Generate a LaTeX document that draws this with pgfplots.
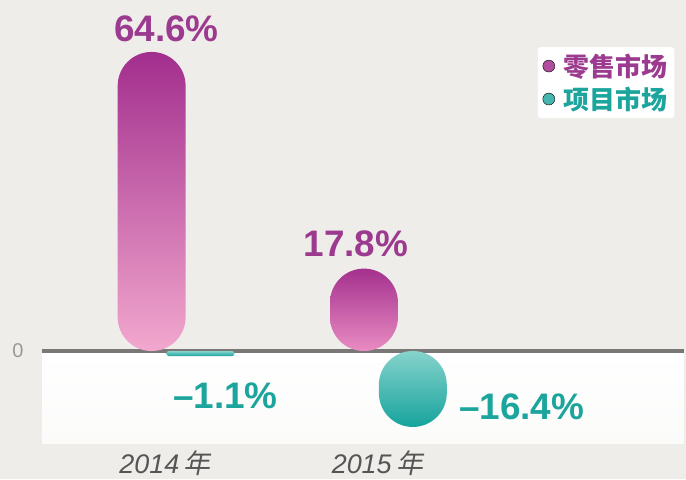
\documentclass[border=0pt]{standalone}
\usepackage{pgfplots}
\pgfplotsset{compat=1.18}
\usepackage{fontspec}
\setmainfont{Liberation Sans}
\newfontfamily\cjk{Noto Sans CJK SC}
\newfontfamily\cjkit{Noto Sans CJK SC}[FakeSlant=0.2]
\usetikzlibrary{backgrounds}
\definecolor{bg}{HTML}{EFEDE9}
\definecolor{panel}{HTML}{FBFBFA}
\definecolor{zeroline}{HTML}{7A7876}
\definecolor{purpTop}{HTML}{A22E8D}
\definecolor{purpBot}{HTML}{F2A8CE}
\definecolor{purpTop2}{HTML}{A4318E}
\definecolor{purpBot2}{HTML}{E98CC2}
\definecolor{tealTop}{HTML}{86D3CC}
\definecolor{tealBot}{HTML}{16A39C}
\definecolor{purpTxt}{HTML}{9B3A8E}
\definecolor{tealTxt}{HTML}{1BA59D}
\definecolor{yeartxt}{HTML}{555555}
\begin{document}
\begin{tikzpicture}[show background rectangle, inner frame sep=0pt,
  background rectangle/.style={fill=bg, draw=none}]
\begin{axis}[
  scale only axis, width=686pt, height=479pt,
  xmin=-0.8286, xmax=2.392, ymin=-27.35, ymax=75.8,
  axis line style={draw=none},
  major tick length=0pt,
  clip=false,
  xtick={0,1},
  xticklabels={{\itshape 2014\,{\cjkit 年}}, {\itshape 2015\,{\cjkit 年}}},
  xticklabel style={anchor=center, yshift=14pt, xshift=-11pt, font=\fontsize{27}{30}\selectfont, text=yeartxt},
  ytick={0}, yticklabels={0},
  yticklabel style={anchor=center, xshift=18pt, font=\fontsize{20}{22}\selectfont, text=gray!80},
  legend style={at={(rel axis cs:0.786,0.902)}, anchor=north west,
    fill=white, draw=none, rounded corners=3pt,
    inner xsep=5pt, inner ysep=5pt, row sep=5pt,
    font=\fontsize{26}{30}\selectfont\cjk\bfseries},
  legend cell align=left,
]
\path (rel axis cs:0,0) rectangle (rel axis cs:1,1);
% lower panel
\fill[top color=white, bottom color=panel] (axis cs:-0.631,0) rectangle (axis cs:2.392,-20);
\draw[line width=4pt, zeroline] (axis cs:-0.631,0) -- (axis cs:2.392,0);

\addlegendimage{only marks, mark=*, mark size=6pt, mark options={draw=none, fill=purpTop!85}}
\addlegendentry{\hspace{7pt}\textcolor{purpTxt}{零售市场}\hspace{8pt}}
\addlegendimage{only marks, mark=*, mark size=6pt, mark options={draw=none, fill=tealBot!80}}
\addlegendentry{\hspace{7pt}\textcolor{tealTxt}{项目市场}\hspace{8pt}}

% retail market
\addplot[ybar, forget plot, bar width=0.32, bar shift=-0.115, draw=none,
  top color=purpTop, bottom color=purpBot, rounded corners=34pt] coordinates {(0,64.6)};
\addplot[ybar, forget plot, bar width=0.32, bar shift=-0.115, draw=none,
  top color=purpTop2, bottom color=purpBot2, rounded corners=34pt] coordinates {(1,17.8)};
% project market
\addplot[ybar, forget plot, bar width=0.32, bar shift=0.115, draw=none,
  top color=tealTop, bottom color=tealBot, rounded corners=2.5pt] coordinates {(0,-1.1)};
\addplot[ybar, forget plot, bar width=0.32, bar shift=0.115, draw=none,
  top color=tealTop, bottom color=tealBot, rounded corners=34pt] coordinates {(1,-16.4)};

\node[font=\fontsize{37}{40}\selectfont\bfseries, text=purpTxt] at (axis cs:-0.045,69.55) {64.6\%};
\node[font=\fontsize{37}{40}\selectfont\bfseries, text=purpTxt] at (axis cs:0.847,23.26) {17.8\%};
\node[font=\fontsize{37}{40}\selectfont\bfseries, text=tealTxt] at (axis cs:0.232,-9.69) {–1.1\%};
\node[font=\fontsize{37}{40}\selectfont\bfseries, text=tealTxt] at (axis cs:1.627,-12.06) {–16.4\%};
\end{axis}
\end{tikzpicture}
\end{document}
